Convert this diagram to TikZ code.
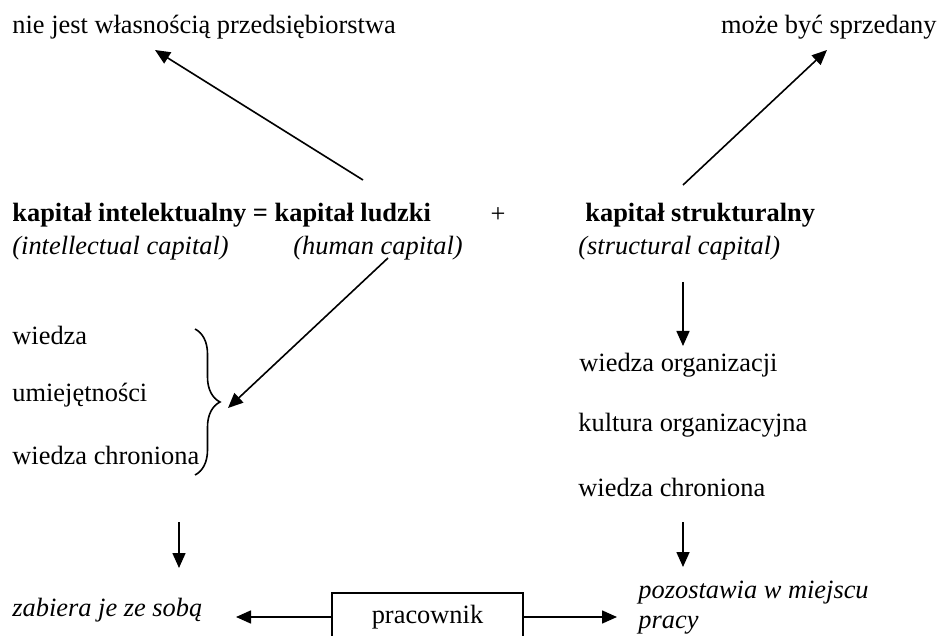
\documentclass[tikz,border=0pt]{standalone}
\usepackage{fontspec}
\setmainfont{Liberation Serif}
\usetikzlibrary{arrows.meta,decorations.pathreplacing}

\begin{document}
\begin{tikzpicture}[x=0.5pt,y=-0.5pt,
    txt/.style={inner sep=0pt,anchor=west,font=\fontsize{13.2}{15}\selectfont},
    bold/.style={txt,font=\fontsize{13.2}{15}\selectfont\bfseries},
    ital/.style={txt,font=\fontsize{13.2}{15}\selectfont\itshape},
    arr/.style={-{Triangle[length=7.5pt,width=6.5pt]},line width=0.8pt}]
  \useasboundingbox (0,0) rectangle (943,636);
  \clip (0,0) rectangle (943,636);

  % top labels
  \node[txt] (owner) at (12,27) {nie jest własnością przedsiębiorstwa};
  \node[txt,anchor=east] (sold) at (937,27) {może być sprzedany};

  % equation
  \node[bold] (ic) at (12,215) {kapitał intelektualny = kapitał ludzki};
  \node[txt,anchor=center] (plus) at (498,215) {+};
  \node[bold] (sc) at (585,215) {kapitał strukturalny};
  \node[ital] (icen) at (12,248) {(intellectual capital)};
  \node[ital] (hcen) at (293,248) {(human capital)};
  \node[ital] (scen) at (578,248) {(structural capital)};

  % arrows up
  \coordinate (upl) at (363,180);
  \coordinate (owntip) at (155,50);
  \draw[arr] (upl) -- (owntip);
  \coordinate (upr) at (683,185);
  \coordinate (soldtip) at (827,50);
  \draw[arr] (upr) -- (soldtip);

  % human capital
  \node[txt] (know) at (12,335) {wiedza};
  \node[txt] (skill) at (12,395) {umiejętności};
  \node[txt] (prot) at (12,455) {wiedza chroniona};
  \draw[line width=0.8pt,decorate,decoration={brace,amplitude=12.5pt}]
       (195,329) -- (195,475);
  \coordinate (bracetip) at (228,408);
  \coordinate (hcout) at (388,258);
  \draw[arr] (hcout) -- (bracetip);

  % structural capital
  \coordinate (scout) at (683,282);
  \coordinate (scin) at (683,346);
  \draw[arr] (scout) -- (scin);
  \node[txt] (org) at (579,365) {wiedza organizacji};
  \node[txt] (cult) at (578,425) {kultura organizacyjna};
  \node[txt] (sprot) at (578,487) {wiedza chroniona};

  % arrows down
  \coordinate (dla) at (179,522);
  \coordinate (dlb) at (179,568);
  \draw[arr] (dla) -- (dlb);
  \coordinate (dra) at (683,522);
  \coordinate (drb) at (683,567);
  \draw[arr] (dra) -- (drb);

  % employee
  \node[ital] (take) at (12,610) {zabiera je ze sobą};
  \node[ital,align=left] (leave) at (638,608) {pozostawia w miejscu\\pracy};
  \node[txt,anchor=center,draw,line width=0.8pt,minimum width=95.5pt,
        minimum height=24pt] (emp) at (427.5,617) {pracownik};
  \coordinate (taketip) at (236,617);
  \coordinate (leavetip) at (617,617);
  \draw[arr] (emp.west) -- (taketip);
  \draw[arr] (emp.east) -- (leavetip);
\end{tikzpicture}
\end{document}
